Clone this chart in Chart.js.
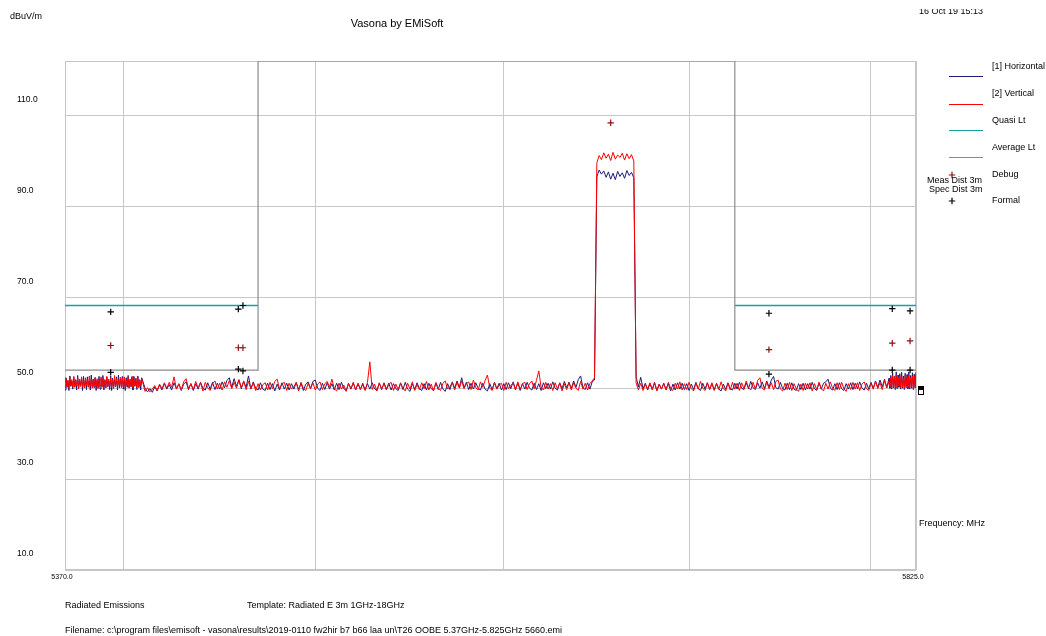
<!DOCTYPE html>
<html>
<head>
<meta charset="utf-8">
<title>Vasona by EMiSoft</title>
<script src="https://cdn.jsdelivr.net/npm/chart.js@4.4.1/dist/chart.umd.min.js"></script>
<style>
  html, body { margin: 0; padding: 0; background: #fff; }
  canvas { display: block; }
</style>
</head>
<body>
<canvas id="plot" width="1046" height="636"></canvas>
<script>
// Sweep segments (MHz): fine sweep at both band edges, coarse sweep in between
const sweepStarts = [5370, 5411.25, 5810.5];
const sweepSteps  = [0.5, 1.25, 0.5];

// [1] Horizontal trace, dBuV/m, one array per sweep segment
const horizontalLow = [
  49.6,52.3,50.2,51.6,49.5,52.7,50.4,51.5,49.8,52.4,50.3,51.9,49.6,52.8,50.1,51.7,50.5,52.2,49.5,52.6,
  50.2,51.8,49.7,52.5,50.3,51.6,49.6,52.9,50.4,52.0,50.1,52.3,49.5,51.7,50.2,52.6,49.8,52.1,50.3,52.8,
  49.6,51.9,50.1,52.4,50.4,51.6,49.7,52.7,49.5,52.2,50.2,51.8,50.3,52.5,49.6,52.9,50.1,52.0,50.4,52.6,
  49.8,51.7,49.5,52.3,50.2,52.8,50.1,51.9,50.3,52.4,49.6,52.6,50.4,52.1,49.7,52.7,50.2,51.8,49.6,52.3
];
const horizontalMid = [
  50.0,49.2,49.9,49.1,50.3,49.4,50.7,49.6,51.0,49.8,
  50.8,49.6,51.2,49.9,51.0,49.5,50.9,51.4,49.7,51.0,
  49.5,51.0,49.8,51.3,50.0,49.6,51.2,49.8,51.3,49.7,
  51.1,49.8,51.4,50.1,51.7,52.3,50.2,52.1,50.4,51.9,
  49.9,51.5,50.2,52.7,49.8,51.4,50.0,49.6,51.2,49.8,
  49.5,51.1,49.7,51.0,49.4,50.9,49.6,51.2,49.8,51.1,
  49.6,51.0,49.8,51.3,49.7,51.1,49.5,50.9,51.4,49.9,
  51.5,51.8,50.0,49.5,51.1,49.7,51.2,49.8,51.0,49.6,
  51.1,49.7,51.3,49.9,49.5,51.1,49.8,51.2,49.6,51.0,
  49.7,51.1,49.6,51.0,49.8,51.2,49.9,49.5,51.1,49.7,
  51.2,49.8,51.1,49.6,51.0,49.9,49.5,51.1,49.7,51.3,
  49.8,49.3,51.0,49.7,51.2,49.9,49.5,51.0,49.6,51.1,
  49.9,49.5,51.1,49.7,51.3,49.8,49.3,51.0,49.7,51.4,
  50.0,51.6,50.2,52.3,50.1,51.3,49.7,51.1,49.8,51.2,
  50.0,49.6,51.1,49.8,49.4,51.0,49.7,51.3,49.9,51.1,
  49.6,51.0,49.7,51.2,49.9,51.4,49.8,51.1,49.5,51.0,
  49.8,51.3,50.0,49.6,51.1,49.7,51.0,49.5,51.2,49.9,
  51.1,49.8,51.4,50.0,49.6,51.2,49.9,51.5,50.1,51.3,
  49.9,51.6,50.2,51.9,52.7,50.1,49.7,51.2,49.8,51.4,
  51.8,96.5,98.0,97.1,97.8,96.4,97.6,96.0,97.3,95.9,
  97.7,96.6,97.4,96.2,97.9,96.8,97.5,96.3,52.5,50.3,
  52.4,49.9,51.1,49.6,51.0,49.7,51.2,49.5,50.9,49.8,
  51.1,49.7,51.0,49.4,50.9,49.6,51.2,49.8,51.1,49.7,
  51.0,49.5,50.9,49.7,51.3,49.9,49.5,51.1,49.8,51.2,
  49.7,51.0,49.6,51.1,49.8,49.4,50.9,49.7,51.2,49.9,
  49.6,51.1,49.8,51.3,50.0,49.7,51.2,49.9,51.5,50.1,
  49.7,51.2,50.0,51.4,49.9,51.6,50.2,51.8,52.6,50.1,
  49.8,51.3,49.9,49.6,51.1,49.7,51.2,49.8,49.5,51.0,
  49.7,51.1,49.6,51.0,49.8,51.3,49.9,49.5,51.2,49.8,
  51.1,51.4,52.0,50.0,49.6,51.0,49.7,51.2,49.9,49.5,
  51.0,49.8,51.2,49.7,51.1,49.9,51.4,50.0,49.6,51.1,
  49.8,51.3,50.0,51.6,50.2,51.8,50.3,52.0,50.1,52.2
];
const horizontalHigh = [
  50.0,52.8,49.8,53.4,50.1,52.6,49.7,53.6,49.9,52.9,50.2,53.2,49.8,53.5,50.0,
  52.7,49.7,53.3,50.1,53.0,49.9,53.6,49.8,52.8,50.0,53.4,49.7,53.1,50.1,53.5
];

// [2] Vertical trace, dBuV/m
const verticalLow = [
  50.2,52.1,50.4,51.8,50.0,52.4,50.6,51.9,50.3,52.6,50.2,51.7,50.5,52.2,49.9,52.0,50.4,52.5,50.3,51.6,
  50.1,52.3,50.6,51.9,50.2,52.7,50.4,52.0,50.0,51.8,50.5,52.4,50.3,52.1,49.9,51.9,50.6,52.5,50.2,52.2,
  50.4,51.7,50.1,52.6,50.3,52.0,50.5,52.3,50.2,51.9,49.9,52.8,50.4,52.1,50.3,51.8,50.6,52.4,50.1,52.2,
  50.3,52.5,50.2,51.9,50.5,52.3,50.0,52.0,50.4,52.6,50.2,51.8,50.6,52.2,50.3,52.4,50.1,51.9,50.5,52.1
];
const verticalMid = [
  49.3,50.1,49.2,49.8,50.6,49.5,50.9,49.9,51.2,50.0,
  51.3,50.2,52.5,49.8,50.9,49.6,51.4,52.1,49.9,51.0,
  49.7,51.5,50.0,51.2,49.4,51.3,50.1,49.5,51.0,51.6,
  49.8,51.1,49.6,51.4,50.2,51.7,49.9,51.3,50.0,51.8,
  50.1,51.6,49.7,51.5,49.9,51.2,49.5,51.0,49.6,50.8,
  51.2,49.6,51.3,49.9,51.5,52.0,49.8,50.9,51.3,49.5,
  51.1,49.8,50.4,51.2,49.4,51.3,50.0,49.5,51.1,49.9,
  51.2,49.6,50.9,51.4,49.7,51.0,51.5,50.2,52.0,49.9,
  49.4,51.1,49.8,50.7,49.3,51.0,49.9,51.3,49.6,51.1,
  49.8,50.8,49.5,51.3,55.8,49.7,50.9,49.4,51.2,49.8,
  51.0,49.6,50.8,51.3,49.5,50.9,49.7,51.2,50.0,49.4,
  51.1,49.8,51.4,49.5,50.8,49.7,51.2,49.9,51.5,49.6,
  50.9,49.4,51.3,50.0,49.5,51.1,51.6,49.8,50.4,51.2,
  49.6,51.3,50.0,51.6,49.9,51.0,51.4,49.7,51.8,50.1,
  49.6,51.4,50.2,51.7,52.9,50.0,49.5,51.2,49.8,50.7,
  51.1,49.5,51.3,49.9,50.6,51.2,49.6,51.4,49.7,51.0,
  51.3,49.7,51.0,51.6,49.9,51.7,53.8,50.2,49.6,51.3,
  49.8,51.0,49.5,51.2,49.9,51.1,49.4,51.0,49.7,51.3,
  49.6,51.2,50.0,49.5,51.5,49.8,51.1,49.6,51.0,51.6,
  52.3,99.6,101.2,100.3,101.8,100.6,101.5,100.1,101.9,100.4,
  101.3,100.8,101.7,100.2,101.6,100.5,101.4,100.0,51.2,49.6,
  51.1,49.5,50.9,49.8,51.2,49.7,51.3,49.4,50.9,49.8,
  51.0,49.6,51.3,50.0,49.5,51.1,49.8,51.4,49.6,51.0,
  49.7,51.3,49.9,49.4,51.1,49.8,51.5,50.0,49.5,51.2,
  49.8,51.2,49.5,51.0,49.7,51.4,49.9,49.4,51.1,49.6,
  51.3,49.8,51.1,49.5,51.2,49.9,51.6,50.1,49.6,51.3,
  49.8,51.7,52.3,50.0,49.6,51.4,49.9,51.2,49.7,51.5,
  51.8,49.8,49.4,51.1,49.7,51.3,49.5,51.0,49.8,49.3,
  50.9,49.5,51.1,49.8,51.2,49.4,51.0,49.7,51.3,49.9,
  49.4,51.1,49.8,51.4,50.0,49.5,51.2,49.7,51.3,49.9,
  49.3,51.0,49.7,51.3,49.8,51.2,49.5,50.9,51.4,49.9,
  49.5,51.1,49.8,51.5,49.9,51.2,49.7,51.7,50.1,51.4
];
const verticalHigh = [
  50.4,52.3,50.1,52.8,50.3,52.5,50.0,52.9,50.2,52.4,50.5,52.7,50.1,52.6,50.3,
  52.2,50.0,52.8,50.4,52.5,50.2,52.9,50.1,52.4,50.3,52.7,50.0,52.6,50.2,52.8
];

// Limit lines (step at the band edges 5470 / 5725 MHz); in-band quasi limit is off scale
const limitFreqs   = [5370, 5470, 5470, 5725, 5725, 5825];
const quasiLimit   = [68.2, 68.2, null, null, 68.2, 68.2];
const averageLimit = [54.0, 54.0, 122, 122, 54.0, 54.0];

// Measured markers
const debugFreqs   = [5393.5, 5459.7, 5462.1, 5657.5, 5743.7, 5811.8, 5821.7];
const debugLevels  = [59.4, 58.9, 58.9, 108.4, 58.5, 59.9, 60.4];
const formalFreqs  = [5393.5, 5393.5, 5459.7, 5459.7, 5462.1, 5462.1, 5743.7, 5743.7, 5811.8, 5811.8, 5821.7, 5821.7];
const formalLevels = [66.8, 53.5, 67.4, 54.2, 68.2, 53.8, 66.5, 53.1, 67.5, 54.0, 67.0, 54.0];

// Axis ticks
const yTicks = [10, 30, 50, 70, 90, 110];
const xGridFreqs = [5370, 5400, 5500, 5600, 5700, 5800, 5825];
const xLabelFreqs = [5370, 5825];

const seriesNames = ['[1] Horizontal', '[2] Vertical', 'Quasi Lt', 'Average Lt', 'Debug', 'Formal'];

const FONT = '"Liberation Sans", Arial, sans-serif';
const COLORS = {
  horizontal: '#1c1c7a',
  vertical: '#ff0000',
  quasi: '#16a0a0',
  average: '#8c8c8c',
  debug: '#8b1010',
  formal: '#000000',
  grid: '#c8c8c8'
};

function sweepPoints(segments) {
  const pts = [];
  segments.forEach((levels, s) => {
    levels.forEach((v, i) => pts.push({ x: sweepStarts[s] + i * sweepSteps[s], y: v }));
  });
  return pts;
}
function pairs(xs, ys) { return xs.map((x, i) => ({ x, y: ys[i] })); }

const datasets = [
  { label: seriesNames[4], data: pairs(debugFreqs, debugLevels), showLine: false,
    pointStyle: 'cross', pointRadius: 3.2, pointBorderWidth: 1.2,
    borderColor: COLORS.debug, backgroundColor: COLORS.debug },
  { label: seriesNames[5], data: pairs(formalFreqs, formalLevels), showLine: false,
    pointStyle: 'cross', pointRadius: 3.2, pointBorderWidth: 1.2,
    borderColor: COLORS.formal, backgroundColor: COLORS.formal },
  { label: seriesNames[1], data: sweepPoints([verticalLow, verticalMid, verticalHigh]),
    borderColor: COLORS.vertical, borderWidth: 1, pointRadius: 0 },
  { label: seriesNames[0], data: sweepPoints([horizontalLow, horizontalMid, horizontalHigh]),
    borderColor: COLORS.horizontal, borderWidth: 1, pointRadius: 0 },
  { label: seriesNames[3], data: pairs(limitFreqs, averageLimit),
    borderColor: COLORS.average, borderWidth: 1.2, pointRadius: 0 },
  { label: seriesNames[2], data: pairs(limitFreqs, quasiLimit), spanGaps: false,
    borderColor: COLORS.quasi, borderWidth: 1.4, pointRadius: 0 }
];

// Plot frame drawn under the traces
const framePlugin = {
  id: 'frame',
  beforeDatasetsDraw(chart) {
    const { ctx, chartArea: a } = chart;
    ctx.save();
    ctx.strokeStyle = '#c4c4c4';
    ctx.lineWidth = 1;
    ctx.strokeRect(Math.round(a.left) + 0.5, Math.round(a.top) + 0.5,
                   Math.round(a.right - a.left) - 1, Math.round(a.bottom - a.top) - 1);
    ctx.restore();
  }
};

// Header, side legend and footer text
const annotationPlugin = {
  id: 'annotations',
  afterDraw(chart) {
    const { ctx, chartArea: a } = chart;
    const yScale = chart.scales.y;
    ctx.save();
    ctx.fillStyle = '#000';
    ctx.textBaseline = 'middle';
    ctx.textAlign = 'left';

    ctx.font = '9px ' + FONT;
    ctx.fillText('dBuV/m', 10, 17);

    ctx.font = '11px ' + FONT;
    ctx.textAlign = 'center';
    ctx.fillText('Vasona by EMiSoft', 397, 24);
    ctx.textAlign = 'left';

    // date stamp, top edge cut by the page border
    ctx.save();
    ctx.beginPath();
    ctx.rect(0, 9, chart.width, 20);
    ctx.clip();
    ctx.font = '9px ' + FONT;
    ctx.textBaseline = 'alphabetic';
    ctx.fillText('16 Oct 19 15:13', 919, 13.5);
    ctx.restore();

    // legend
    const legendX = 992, lineX0 = 949, lineX1 = 983;
    const rows = [
      { name: seriesNames[0], y: 67, lineY: 76.5, color: COLORS.horizontal },
      { name: seriesNames[1], y: 94, lineY: 104.5, color: COLORS.vertical },
      { name: seriesNames[2], y: 121, lineY: 130.5, color: COLORS.quasi },
      { name: seriesNames[3], y: 148, lineY: 157.5, color: COLORS.average }
    ];
    ctx.font = '9px ' + FONT;
    rows.forEach(r => {
      ctx.fillStyle = '#000';
      ctx.fillText(r.name, legendX, r.y);
      ctx.strokeStyle = r.color;
      ctx.lineWidth = 1.2;
      ctx.beginPath();
      ctx.moveTo(lineX0, r.lineY);
      ctx.lineTo(lineX1, r.lineY);
      ctx.stroke();
    });
    const crosses = [
      { name: seriesNames[4], y: 175, color: COLORS.debug },
      { name: seriesNames[5], y: 201, color: COLORS.formal }
    ];
    crosses.forEach(r => {
      ctx.fillStyle = '#000';
      ctx.fillText(r.name, legendX, r.y);
      ctx.strokeStyle = r.color;
      ctx.lineWidth = 1.2;
      ctx.beginPath();
      ctx.moveTo(952, r.y - 3.2); ctx.lineTo(952, r.y + 3.2);
      ctx.moveTo(948.8, r.y); ctx.lineTo(955.2, r.y);
      ctx.stroke();
    });
    ctx.fillStyle = '#000';
    ctx.fillText('Meas Dist 3m', 927, 181);
    ctx.fillText('Spec Dist 3m', 929, 190);

    ctx.fillText('Frequency: MHz', 919, 524);

    // small end-of-trace box at the right edge
    const by = Math.round(yScale.getPixelForValue(50)) - 2;
    const bx = Math.round(a.right) + 2;
    ctx.strokeStyle = '#000';
    ctx.lineWidth = 1;
    ctx.strokeRect(bx + 0.5, by + 0.5, 5, 8);
    ctx.fillRect(bx + 1, by + 1, 4, 3);

    // footer
    ctx.font = '9px ' + FONT;
    ctx.fillText('Radiated Emissions', 65, 606);
    ctx.fillText('Template: Radiated E 3m 1GHz-18GHz', 247, 606);
    ctx.fillText('Filename: c:\\program files\\emisoft - vasona\\results\\2019-0110 fw2hir b7 b66 laa un\\T26 OOBE 5.37GHz-5.825GHz 5660.emi', 65, 631);
    ctx.restore();
  }
};

new Chart(document.getElementById('plot'), {
  type: 'line',
  data: { datasets },
  options: {
    responsive: false,
    animation: false,
    devicePixelRatio: 1,
    layout: { padding: { left: 17, right: 130, top: 61, bottom: 0 } },
    plugins: {
      legend: { display: false },
      title: { display: false },
      tooltip: { enabled: false }
    },
    elements: { line: { tension: 0 } },
    scales: {
      x: {
        type: 'logarithmic',
        min: 5370,
        max: 5825,
        afterBuildTicks(scale) { scale.ticks = xGridFreqs.map(v => ({ value: v })); },
        afterFit(scale) { scale.height = 66; },
        grid: { color: COLORS.grid, drawTicks: false, lineWidth: 1 },
        border: { display: false },
        ticks: {
          autoSkip: false,
          maxRotation: 0,
          minRotation: 0,
          padding: 3,
          labelOffset: -3,
          color: '#000',
          font: { family: FONT, size: 7 },
          callback: (v) => xLabelFreqs.includes(v) ? v.toFixed(1) : ''
        }
      },
      y: {
        type: 'linear',
        min: 10,
        max: 122,
        afterBuildTicks(scale) { scale.ticks = yTicks.map(v => ({ value: v })); },
        afterFit(scale) { scale.width = 48; },
        grid: { color: COLORS.grid, drawTicks: false, lineWidth: 1 },
        border: { display: false },
        ticks: {
          crossAlign: 'far',
          labelOffset: -16,
          color: '#000',
          font: { family: FONT, size: 8.5 },
          callback: (v) => Number(v).toFixed(1)
        }
      }
    }
  },
  plugins: [framePlugin, annotationPlugin]
});
</script>
</body>
</html>
